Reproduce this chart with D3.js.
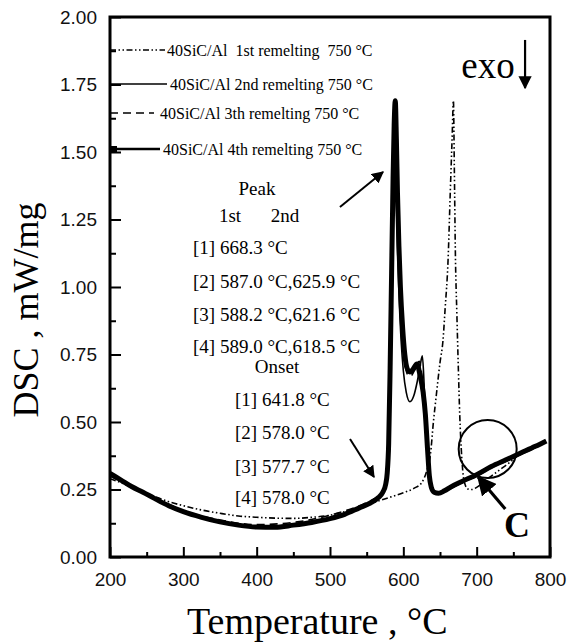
<!DOCTYPE html>
<html><head><meta charset="utf-8">
<script src="https://cdn.jsdelivr.net/npm/d3@7"></script>
<style>body{margin:0;background:#fff}svg{display:block}</style>
</head><body>
<svg id="chart" width="568" height="643"></svg>
<script>
// ---------- data ----------
const xTickValues = [200, 300, 400, 500, 600, 700, 800];
const xMinorValues = [250, 350, 450, 550, 650, 750];
const yTickValues = [0, 0.25, 0.5, 0.75, 1.0, 1.25, 1.5, 1.75, 2.0];
const yMinorValues = [0.125, 0.375, 0.625, 0.875, 1.125, 1.375, 1.625, 1.875];

const seriesLabels = [
  "40SiC/Al  1st remelting  750 °C",
  "40SiC/Al 2nd remelting 750 °C",
  "40SiC/Al 3th remelting 750 °C",
  "40SiC/Al 4th remelting 750 °C"
];

const run1 = [[200,0.29],[220,0.27],[240,0.245],[260,0.225],[280,0.205],[300,0.19],[325,0.174],[350,0.162],[375,0.152],[400,0.147],[425,0.144],[450,0.143],[475,0.147],[500,0.155],[520,0.168],[540,0.182],[560,0.202],[580,0.22],[600,0.238],[615,0.255],[625,0.275],[632,0.32],[637,0.38],[641,0.5],[645,0.6],[650,0.72],[654,0.8],[657,0.92],[661,1.1],[664,1.35],[666.5,1.55],[668.3,1.69],[669.5,1.45],[671,1.12],[673,0.9],[675,0.7],[677,0.52],[679,0.4],[681,0.32],[684,0.27],[688,0.252],[694,0.25],[700,0.258],[715,0.29],[730,0.32],[745,0.35],[760,0.385]];

const run2 = [[200,0.305],[230,0.258],[260,0.215],[300,0.166],[350,0.13],[400,0.113],[450,0.12],[500,0.145],[540,0.185],[560,0.21],[570,0.23],[575,0.26],[578,0.32],[580,0.5],[582,0.85],[584,1.2],[586,1.5],[587,1.63],[588.5,1.55],[590,1.38],[592,1.15],[594,0.98],[597,0.8],[600,0.69],[604,0.61],[609,0.575],[614,0.595],[619,0.65],[623,0.71],[625.9,0.745],[628,0.66],[630,0.52],[632,0.4],[634.5,0.3],[637,0.255],[641,0.24],[648,0.236],[660,0.248],[680,0.275],[700,0.3],[720,0.33],[740,0.355],[760,0.38],[780,0.405],[790,0.42]];

const run3 = [[200,0.3],[230,0.258],[260,0.22],[300,0.172],[350,0.137],[400,0.12],[450,0.128],[500,0.155],[540,0.19],[560,0.215],[570,0.235],[575,0.26],[578,0.3],[580,0.45],[582,0.78],[584,1.12],[586,1.45],[588.2,1.67],[589.5,1.55],[591,1.38],[593,1.15],[596,0.95],[599,0.8],[602,0.72],[606,0.675],[610,0.67],[615,0.69],[621.6,0.725],[625,0.68],[628,0.6],[631,0.47],[634,0.33],[637,0.265],[641,0.24],[648,0.236],[660,0.25],[680,0.278],[700,0.303],[720,0.333],[740,0.358],[760,0.383],[780,0.408],[792,0.425]];

const run4 = [[200,0.31],[215,0.285],[230,0.26],[245,0.24],[260,0.218],[280,0.19],[300,0.168],[325,0.147],[350,0.13],[375,0.118],[400,0.111],[425,0.11],[450,0.118],[475,0.128],[500,0.142],[520,0.158],[540,0.182],[555,0.2],[566,0.22],[572,0.24],[576,0.27],[578,0.31],[580,0.42],[582,0.7],[584,1.05],[586,1.4],[587.5,1.6],[589,1.69],[590.5,1.55],[592,1.35],[594,1.15],[596,1.0],[599,0.85],[602,0.75],[605,0.7],[609,0.685],[613,0.695],[618.5,0.715],[623,0.67],[627,0.61],[630,0.53],[633,0.4],[635.5,0.3],[638,0.26],[642,0.24],[648,0.236],[656,0.245],[665,0.26],[680,0.28],[700,0.305],[720,0.335],[740,0.36],[760,0.385],[780,0.41],[795,0.43]];

const peakLines = ["[1] 668.3 °C", "[2] 587.0 °C,625.9 °C", "[3] 588.2 °C,621.6 °C", "[4] 589.0 °C,618.5 °C"];
const onsetLines = ["[1] 641.8 °C", "[2] 578.0 °C", "[3] 577.7 °C", "[4] 578.0 °C"];

// ---------- layout ----------
const svg = d3.select("#chart");
const L = 110, R = 550, T = 17, B = 557;
const x = d3.scaleLinear().domain([200, 800]).range([L, R]);
const y = d3.scaleLinear().domain([0, 2]).range([B, T]);
const serif = "'Liberation Serif','Times New Roman',serif";
const sans = "'Liberation Sans',Arial,sans-serif";

const defs = svg.append("defs");
defs.append("clipPath").attr("id","clip")
  .append("rect").attr("x",L).attr("y",T).attr("width",R-L).attr("height",B-T);

const styles = [
  {w:1.6, dash:"6,2.5,1.5,2.5,1.5,2.5"},
  {w:1.6, dash:null},
  {w:1.6, dash:"8,5"},
  {w:5, dash:null}
];
const line = d3.line().x(d=>x(d[0])).y(d=>y(d[1])).curve(d3.curveMonotoneX);
const runs = [run1, run2, run3, run4];
const gCurves = svg.append("g").attr("clip-path","url(#clip)");
runs.forEach((r,i)=>{
  gCurves.append("path").datum(r).attr("d",line)
    .attr("fill","none").attr("stroke","#000")
    .attr("stroke-width",styles[i].w)
    .attr("stroke-dasharray",styles[i].dash)
    .attr("stroke-linejoin","round");
});

// axes
const fmt = d3.format(".2f");
const gy = svg.append("g").attr("transform",`translate(${L},0)`)
  .call(d3.axisLeft(y).tickValues(yTickValues).tickFormat(fmt).tickSizeInner(-11).tickSizeOuter(0).tickPadding(13));
const gyMin = svg.append("g").attr("transform",`translate(${L},0)`)
  .call(d3.axisLeft(y).tickValues(yMinorValues).tickFormat("").tickSizeInner(-6).tickSizeOuter(0));
const gx = svg.append("g").attr("transform",`translate(0,${B})`)
  .call(d3.axisBottom(x).tickValues(xTickValues).tickFormat(d3.format("d")).tickSizeInner(-10).tickSizeOuter(0).tickPadding(16));
const gxMin = svg.append("g").attr("transform",`translate(0,${B})`)
  .call(d3.axisBottom(x).tickValues(xMinorValues).tickFormat("").tickSizeInner(-5).tickSizeOuter(0));
[gy,gyMin,gx,gxMin].forEach(g=>{
  g.select(".domain").remove();
  g.selectAll(".tick line").attr("stroke","#000").attr("stroke-width",2);
  g.selectAll(".tick text").attr("font-family",sans).attr("font-size",19).attr("fill","#111");
});
svg.append("rect").attr("x",L).attr("y",T).attr("width",R-L).attr("height",B-T)
  .attr("fill","none").attr("stroke","#000").attr("stroke-width",3);

// axis titles
svg.append("text").attr("transform",`translate(38,310) rotate(-90)`)
  .attr("text-anchor","middle").attr("font-family",serif).attr("font-size",36)
  .text("DSC , mW/mg");
svg.append("text").attr("x",187).attr("y",634)
  .attr("font-family",serif).attr("font-size",38)
  .text("Temperature , °C");

// legend
const legY = [50, 84, 113, 149];
const legEnd = [165, 167, 154, 160];
const legTextX = [167, 170, 160, 163];
const gl = svg.append("g");
seriesLabels.forEach((s,i)=>{
  gl.append("line").attr("x1",L).attr("x2",legEnd[i]).attr("y1",legY[i]).attr("y2",legY[i])
    .attr("stroke","#000").attr("stroke-width",i===3?2.5:1.6).attr("stroke-dasharray",styles[i].dash);
  gl.append("text").attr("x",legTextX[i]).attr("y",legY[i]+5.5)
    .attr("font-family",serif).attr("font-size",16).style("white-space","pre").text(s);
});
gl.append("rect").attr("x",L+1).attr("y",legY[3]-3).attr("width",6).attr("height",6).attr("fill","#000");

// annotation text
const ga = svg.append("g").attr("font-family",serif).attr("font-size",19).attr("fill","#000");
ga.append("text").attr("x",257).attr("y",195).attr("text-anchor","middle").text("Peak");
ga.append("text").attr("x",230).attr("y",222).attr("text-anchor","middle").text("1st");
ga.append("text").attr("x",285).attr("y",222).attr("text-anchor","middle").text("2nd");
const peakY = [254, 288, 321, 353];
peakLines.forEach((s,i)=>ga.append("text").attr("x",193).attr("y",peakY[i]).text(s));
ga.append("text").attr("x",277).attr("y",373).attr("text-anchor","middle").text("Onset");
const onsetY = [406, 439, 473, 504];
onsetLines.forEach((s,i)=>ga.append("text").attr("x",235).attr("y",onsetY[i]).text(s));

// arrows (positions in data units)
defs.append("marker").attr("id","ah").attr("viewBox","0 0 10 10").attr("refX",9).attr("refY",5)
  .attr("markerWidth",6).attr("markerHeight",6).attr("orient","auto-start-reverse")
  .append("path").attr("d","M0,0 L10,5 L0,10 Z").attr("fill","#000");
function arrow(t1,v1,t2,v2,w){
  svg.append("line").attr("x1",x(t1)).attr("y1",y(v1)).attr("x2",x(t2)).attr("y2",y(v2))
    .attr("stroke","#000").attr("stroke-width",w).attr("marker-end","url(#ah)");
}
arrow(513.6,1.296,572.3,1.426,2);
arrow(527.3,0.437,560,0.296,2);
arrow(766,1.915,766,1.737,2.2);
svg.append("text").attr("x",x(752)).attr("y",y(1.774)).attr("text-anchor","end")
  .attr("font-family",serif).attr("font-size",37).text("exo");

// circle C
svg.append("circle").attr("cx",x(715)).attr("cy",y(0.40)).attr("r",29)
  .attr("fill","none").attr("stroke","#000").attr("stroke-width",2);
arrow(739,0.178,702,0.296,3.2);
svg.append("text").attr("x",x(755)).attr("y",y(0.075)).attr("text-anchor","middle")
  .attr("font-family",serif).attr("font-weight","bold").attr("font-size",36).text("C");
</script>
</body></html>
